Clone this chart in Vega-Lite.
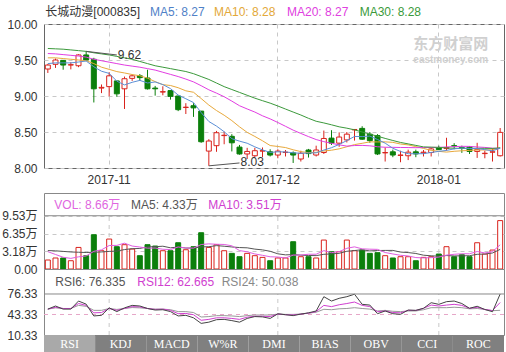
{
"$schema": "https://vega.github.io/schema/vega-lite/v6.json",
"background": "white",
"padding": {"left": 1, "top": 5, "right": 3, "bottom": 0},
"bounds": "flush",
"spacing": 0,
"config": {
 "font": "Liberation Sans, Noto Sans CJK SC",
 "axis": {"labelFontSize": 12, "labelColor": "#333333", "domain": false, "ticks": false, "labelOverlap": false, "labelFlush": false, "labelBound": false},
 "text": {"fontSize": 12},
 "line": {"strokeWidth": 1}
},
"datasets": {
"months": [{"d":"2017-11-01"},{"d":"2017-12-01"},{"d":"2018-01-02"}],
"tabs": [{"t":"RSI"},{"t":"KDJ"},{"t":"MACD"},{"t":"W%R"},{"t":"DMI"},{"t":"BIAS"},{"t":"OBV"},{"t":"CCI"},{"t":"ROC"}],
"k": [
{"d":"2017-10-20","o":9.375,"h":9.445,"l":9.32,"c":9.43,"v":1.61,"m5":9.45,"m10":9.53,"m20":9.59,"m30":9.66,"vm5":3.1,"vm10":3.3,"r6":52,"r12":52,"r24":52},
{"d":"2017-10-23","o":9.44,"h":9.52,"l":9.39,"c":9.5,"v":1.97,"m5":9.46,"m10":9.53,"m20":9.585,"m30":9.655,"vm5":2.6,"vm10":3.25,"r6":57,"r12":55,"r24":54},
{"d":"2017-10-24","o":9.495,"h":9.5,"l":9.365,"c":9.43,"v":1.97,"m5":9.46,"m10":9.52,"m20":9.575,"m30":9.65,"vm5":2.1,"vm10":3.15,"r6":52,"r12":53,"r24":53},
{"d":"2017-10-25","o":9.43,"h":9.47,"l":9.37,"c":9.435,"v":1.48,"m5":9.46,"m10":9.51,"m20":9.565,"m30":9.64,"vm5":1.9,"vm10":3.05,"r6":52,"r12":53,"r24":53},
{"d":"2017-10-26","o":9.42,"h":9.58,"l":9.4,"c":9.57,"v":3.86,"m5":9.472,"m10":9.5,"m20":9.555,"m30":9.63,"vm5":2.178,"vm10":3.0,"r6":65,"r12":61,"r24":58},
{"d":"2017-10-27","o":9.57,"h":9.62,"l":9.49,"c":9.5,"v":2.38,"m5":9.486,"m10":9.49,"m20":9.54,"m30":9.62,"vm5":2.332,"vm10":2.95,"r6":60,"r12":58,"r24":56.5},
{"d":"2017-10-30","o":9.51,"h":9.53,"l":8.91,"c":9.1,"v":6.13,"m5":9.406,"m10":9.45,"m20":9.51,"m30":9.6,"vm5":3.164,"vm10":3.0,"r6":41,"r12":46,"r24":50},
{"d":"2017-10-31","o":9.11,"h":9.16,"l":9.04,"c":9.12,"v":3.27,"m5":9.344,"m10":9.4,"m20":9.49,"m30":9.585,"vm5":3.424,"vm10":3.05,"r6":42,"r12":46.5,"r24":50},
{"d":"2017-11-01","o":9.13,"h":9.33,"l":8.995,"c":9.28,"v":5.36,"m5":9.314,"m10":9.37,"m20":9.47,"m30":9.57,"vm5":4.2,"vm10":3.15,"r6":54,"r12":53,"r24":53},
{"d":"2017-11-02","o":9.21,"h":9.21,"l":8.99,"c":9.03,"v":3.99,"m5":9.206,"m10":9.339,"m20":9.45,"m30":9.55,"vm5":4.226,"vm10":3.202,"r6":48,"r12":50,"r24":51.5},
{"d":"2017-11-03","o":9.1,"h":9.27,"l":8.82,"c":9.24,"v":4.35,"m5":9.154,"m10":9.32,"m20":9.43,"m30":9.53,"vm5":4.62,"vm10":3.476,"r6":54,"r12":53,"r24":53},
{"d":"2017-11-06","o":9.245,"h":9.3,"l":9.21,"c":9.28,"v":3.57,"m5":9.19,"m10":9.298,"m20":9.415,"m30":9.51,"vm5":4.108,"vm10":3.636,"r6":58,"r12":56,"r24":54.5},
{"d":"2017-11-07","o":9.28,"h":9.305,"l":9.21,"c":9.255,"v":2.38,"m5":9.217,"m10":9.281,"m20":9.4,"m30":9.48,"vm5":3.93,"vm10":3.677,"r6":57,"r12":55.5,"r24":54},
{"d":"2017-11-08","o":9.25,"h":9.365,"l":9.09,"c":9.1,"v":4.35,"m5":9.181,"m10":9.248,"m20":9.38,"m30":9.45,"vm5":3.728,"vm10":3.964,"r6":53,"r12":53,"r24":53},
{"d":"2017-11-09","o":9.11,"h":9.14,"l":9.005,"c":9.1,"v":4.11,"m5":9.195,"m10":9.2,"m20":9.36,"m30":9.42,"vm5":3.752,"vm10":3.989,"r6":50.5,"r12":51.5,"r24":52},
{"d":"2017-11-10","o":9.055,"h":9.135,"l":9.01,"c":9.06,"v":3.27,"m5":9.159,"m10":9.157,"m20":9.33,"m30":9.4,"vm5":3.536,"vm10":4.078,"r6":51,"r12":52,"r24":52},
{"d":"2017-11-13","o":9.075,"h":9.075,"l":8.95,"c":8.995,"v":3.27,"m5":9.102,"m10":9.146,"m20":9.3,"m30":9.38,"vm5":3.476,"vm10":3.792,"r6":48,"r12":50,"r24":51},
{"d":"2017-11-14","o":9.0,"h":9.005,"l":8.79,"c":8.81,"v":4.7,"m5":9.013,"m10":9.115,"m20":9.27,"m30":9.36,"vm5":3.94,"vm10":3.935,"r6":41,"r12":44.7,"r24":48},
{"d":"2017-11-15","o":8.84,"h":8.9,"l":8.75,"c":8.845,"v":3.45,"m5":8.962,"m10":9.072,"m20":9.235,"m30":9.34,"vm5":3.76,"vm10":3.744,"r6":42,"r12":45,"r24":48},
{"d":"2017-11-16","o":8.865,"h":8.9,"l":8.71,"c":8.835,"v":3.99,"m5":8.909,"m10":9.052,"m20":9.196,"m30":9.31,"vm5":3.736,"vm10":3.744,"r6":38,"r12":43,"r24":46.5},
{"d":"2017-11-17","o":8.79,"h":8.79,"l":8.35,"c":8.365,"v":6.49,"m5":8.77,"m10":8.965,"m20":9.143,"m30":9.27,"vm5":4.38,"vm10":3.958,"r6":29,"r12":34,"r24":39.3},
{"d":"2017-11-20","o":8.235,"h":8.4,"l":8.03,"c":8.375,"v":3.86,"m5":8.646,"m10":8.874,"m20":9.086,"m30":9.23,"vm5":4.498,"vm10":3.987,"r6":31,"r12":35.5,"r24":40},
{"d":"2017-11-21","o":8.31,"h":8.515,"l":8.225,"c":8.49,"v":4.35,"m5":8.582,"m10":8.798,"m20":9.04,"m30":9.18,"vm5":4.428,"vm10":4.184,"r6":35,"r12":38,"r24":41.5},
{"d":"2017-11-22","o":8.45,"h":8.505,"l":8.33,"c":8.455,"v":3.27,"m5":8.504,"m10":8.733,"m20":8.99,"m30":9.13,"vm5":4.392,"vm10":4.076,"r6":35.5,"r12":38,"r24":41.5},
{"d":"2017-11-23","o":8.44,"h":8.47,"l":8.23,"c":8.35,"v":2.8,"m5":8.407,"m10":8.658,"m20":8.929,"m30":9.09,"vm5":4.154,"vm10":3.945,"r6":33.5,"r12":37,"r24":41},
{"d":"2017-11-24","o":8.29,"h":8.32,"l":8.185,"c":8.195,"v":2.2,"m5":8.373,"m10":8.572,"m20":8.865,"m30":9.05,"vm5":3.296,"vm10":3.838,"r6":31,"r12":35.5,"r24":40},
{"d":"2017-11-27","o":8.195,"h":8.28,"l":8.125,"c":8.23,"v":2.8,"m5":8.344,"m10":8.495,"m20":8.82,"m30":9.01,"vm5":3.084,"vm10":3.791,"r6":37,"r12":39,"r24":41.5},
{"d":"2017-11-28","o":8.17,"h":8.28,"l":8.15,"c":8.24,"v":2.38,"m5":8.294,"m10":8.438,"m20":8.777,"m30":8.97,"vm5":2.69,"vm10":3.559,"r6":40,"r12":40.5,"r24":42.5},
{"d":"2017-11-29","o":8.235,"h":8.285,"l":8.15,"c":8.24,"v":2.08,"m5":8.251,"m10":8.378,"m20":8.725,"m30":8.935,"vm5":2.452,"vm10":3.422,"r6":39.5,"r12":40.5,"r24":42.5},
{"d":"2017-11-30","o":8.225,"h":8.26,"l":8.16,"c":8.18,"v":1.48,"m5":8.217,"m10":8.312,"m20":8.682,"m30":8.901,"vm5":2.188,"vm10":3.171,"r6":37,"r12":40,"r24":42.5},
{"d":"2017-12-01","o":8.18,"h":8.26,"l":8.135,"c":8.235,"v":1.97,"m5":8.225,"m10":8.299,"m20":8.632,"m30":8.861,"vm5":2.142,"vm10":2.719,"r6":44.5,"r12":44,"r24":44},
{"d":"2017-12-04","o":8.215,"h":8.25,"l":8.16,"c":8.22,"v":1.97,"m5":8.223,"m10":8.284,"m20":8.579,"m30":8.819,"vm5":1.976,"vm10":2.53,"r6":43,"r12":43,"r24":43.5},
{"d":"2017-12-05","o":8.21,"h":8.23,"l":8.07,"c":8.18,"v":4.88,"m5":8.211,"m10":8.253,"m20":8.526,"m30":8.777,"vm5":2.476,"vm10":2.583,"r6":41.5,"r12":42.5,"r24":43.5},
{"d":"2017-12-06","o":8.125,"h":8.24,"l":8.09,"c":8.205,"v":2.2,"m5":8.204,"m10":8.228,"m20":8.48,"m30":8.736,"vm5":2.5,"vm10":2.476,"r6":44,"r12":44,"r24":44},
{"d":"2017-12-07","o":8.25,"h":8.265,"l":8.145,"c":8.2,"v":2.2,"m5":8.208,"m10":8.213,"m20":8.436,"m30":8.69,"vm5":2.644,"vm10":2.416,"r6":46,"r12":45.5,"r24":45.5},
{"d":"2017-12-08","o":8.18,"h":8.31,"l":8.16,"c":8.25,"v":1.97,"m5":8.211,"m10":8.218,"m20":8.395,"m30":8.649,"vm5":2.644,"vm10":2.393,"r6":49,"r12":48,"r24":47},
{"d":"2017-12-11","o":8.215,"h":8.52,"l":8.195,"c":8.41,"v":5.18,"m5":8.249,"m10":8.236,"m20":8.366,"m30":8.626,"vm5":3.286,"vm10":2.631,"r6":72,"r12":58,"r24":51.7},
{"d":"2017-12-12","o":8.415,"h":8.525,"l":8.32,"c":8.345,"v":3.09,"m5":8.282,"m10":8.247,"m20":8.343,"m30":8.6,"vm5":2.928,"vm10":2.702,"r6":65,"r12":56,"r24":51},
{"d":"2017-12-13","o":8.345,"h":8.495,"l":8.295,"c":8.43,"v":3.09,"m5":8.327,"m10":8.266,"m20":8.322,"m30":8.572,"vm5":3.106,"vm10":2.803,"r6":69.4,"r12":59,"r24":52.5},
{"d":"2017-12-14","o":8.39,"h":8.5,"l":8.355,"c":8.47,"v":5.18,"m5":8.381,"m10":8.295,"m20":8.304,"m30":8.553,"vm5":3.702,"vm10":3.173,"r6":72,"r12":61,"r24":53},
{"d":"2017-12-15","o":8.53,"h":8.535,"l":8.38,"c":8.535,"v":3.27,"m5":8.438,"m10":8.325,"m20":8.312,"m30":8.53,"vm5":3.962,"vm10":3.303,"r6":76,"r12":63.4,"r24":54.3},
{"d":"2017-12-18","o":8.55,"h":8.58,"l":8.39,"c":8.4,"v":3.39,"m5":8.436,"m10":8.343,"m20":8.314,"m30":8.5,"vm5":3.604,"vm10":3.445,"r6":59.7,"r12":58,"r24":53},
{"d":"2017-12-19","o":8.47,"h":8.5,"l":8.35,"c":8.38,"v":2.8,"m5":8.443,"m10":8.363,"m20":8.308,"m30":8.471,"vm5":3.546,"vm10":3.237,"r6":58.5,"r12":56,"r24":52},
{"d":"2017-12-20","o":8.45,"h":8.47,"l":8.18,"c":8.195,"v":2.92,"m5":8.396,"m10":8.362,"m20":8.295,"m30":8.441,"vm5":3.512,"vm10":3.309,"r6":44.6,"r12":47.8,"r24":49},
{"d":"2017-12-21","o":8.21,"h":8.285,"l":8.09,"c":8.215,"v":2.38,"m5":8.345,"m10":8.363,"m20":8.288,"m30":8.411,"vm5":2.952,"vm10":3.327,"r6":49,"r12":49,"r24":50},
{"d":"2017-12-22","o":8.225,"h":8.255,"l":8.15,"c":8.18,"v":1.97,"m5":8.274,"m10":8.356,"m20":8.287,"m30":8.382,"vm5":2.692,"vm10":3.327,"r6":44.6,"r12":46.5,"r24":48.5},
{"d":"2017-12-25","o":8.175,"h":8.24,"l":8.08,"c":8.18,"v":2.2,"m5":8.23,"m10":8.333,"m20":8.285,"m30":8.355,"vm5":2.454,"vm10":3.029,"r6":43.6,"r12":46,"r24":48},
{"d":"2017-12-26","o":8.17,"h":8.255,"l":8.11,"c":8.22,"v":2.2,"m5":8.198,"m10":8.321,"m20":8.284,"m30":8.335,"vm5":2.334,"vm10":2.94,"r6":50.5,"r12":50,"r24":49},
{"d":"2017-12-27","o":8.225,"h":8.255,"l":8.15,"c":8.195,"v":1.48,"m5":8.198,"m10":8.297,"m20":8.282,"m30":8.314,"vm5":2.046,"vm10":2.779,"r6":50,"r12":49.8,"r24":49},
{"d":"2017-12-28","o":8.21,"h":8.25,"l":8.16,"c":8.22,"v":2.08,"m5":8.199,"m10":8.272,"m20":8.284,"m30":8.293,"vm5":1.986,"vm10":2.469,"r6":53.3,"r12":53.3,"r24":51},
{"d":"2017-12-29","o":8.215,"h":8.29,"l":8.16,"c":8.265,"v":2.2,"m5":8.216,"m10":8.245,"m20":8.285,"m30":8.29,"vm5":2.032,"vm10":2.362,"r6":62.3,"r12":58.5,"r24":54.3},
{"d":"2018-01-02","o":8.285,"h":8.31,"l":8.25,"c":8.255,"v":2.68,"m5":8.231,"m10":8.231,"m20":8.287,"m30":8.286,"vm5":2.128,"vm10":2.291,"r6":59.7,"r12":57,"r24":54.3},
{"d":"2018-01-03","o":8.27,"h":8.42,"l":8.24,"c":8.285,"v":3.99,"m5":8.244,"m10":8.221,"m20":8.292,"m30":8.279,"vm5":2.486,"vm10":2.41,"r6":64,"r12":58.5,"r24":54.3},
{"d":"2018-01-04","o":8.31,"h":8.345,"l":8.26,"c":8.305,"v":2.2,"m5":8.266,"m10":8.232,"m20":8.297,"m30":8.274,"vm5":2.63,"vm10":2.338,"r6":65,"r12":59.7,"r24":55},
{"d":"2018-01-05","o":8.285,"h":8.31,"l":8.21,"c":8.28,"v":2.56,"m5":8.278,"m10":8.239,"m20":8.301,"m30":8.272,"vm5":2.726,"vm10":2.356,"r6":61,"r12":58,"r24":54.3},
{"d":"2018-01-08","o":8.29,"h":8.3,"l":8.195,"c":8.23,"v":2.2,"m5":8.271,"m10":8.244,"m20":8.3,"m30":8.273,"vm5":2.726,"vm10":2.379,"r6":53.3,"r12":53.3,"r24":52.5},
{"d":"2018-01-09","o":8.23,"h":8.35,"l":8.14,"c":8.255,"v":4.7,"m5":8.271,"m10":8.251,"m20":8.292,"m30":8.273,"vm5":3.13,"vm10":2.629,"r6":56.6,"r12":55,"r24":53},
{"d":"2018-01-10","o":8.2,"h":8.24,"l":8.135,"c":8.205,"v":2.68,"m5":8.255,"m10":8.25,"m20":8.286,"m30":8.273,"vm5":2.868,"vm10":2.677,"r6":51.4,"r12":51.4,"r24":51.4},
{"d":"2018-01-11","o":8.22,"h":8.275,"l":8.09,"c":8.225,"v":3.39,"m5":8.239,"m10":8.253,"m20":8.275,"m30":8.272,"vm5":3.106,"vm10":2.868,"r6":47.8,"r12":49.7,"r24":49.5},
{"d":"2018-01-12","o":8.17,"h":8.555,"l":8.16,"c":8.495,"v":8.66,"m5":8.275,"m10":8.28,"m20":8.27,"m30":8.28,"vm5":4.33,"vm10":3.51,"r6":76.335,"r12":62.665,"r24":50.038}
]
},
"vconcat": [
{
 "width": 460, "height": 144,
 "view": {"stroke": "#666666"},
 "data": {"name": "k"},
 "layer": [
  {"mark": {"type": "rule", "strokeWidth": 1},
   "encoding": {
    "x": {"field": "d", "type": "ordinal", "scale": {"paddingInner": 0.35, "paddingOuter": 0.175},
          "axis": {"values": ["2017-11-01","2017-12-01","2018-01-02"], "labelExpr": "slice(datum.value, 0, 7)", "grid": true, "gridDash": [4,4], "gridColor": "#c8c8c8", "bandPosition": 0.5, "labelAngle": 0, "labelPadding": 6, "title": null}},
    "y": {"field": "l", "type": "quantitative", "scale": {"domain": [8, 10], "zero": false, "nice": false},
          "axis": {"values": [8, 8.5, 9, 9.5, 10], "tickCount": 20, "format": ".2f", "grid": true, "gridDash": [4,4], "gridColor": "#c8c8c8", "labelPadding": 7, "title": null, "labelFlush": false, "labelOverlap": false}},
    "y2": {"field": "h"},
    "color": {"condition": {"test": "datum.c >= datum.o", "value": "#d9221c"}, "value": "#0b7f0b"}
   }},
  {"mark": {"type": "bar", "strokeWidth": 1},
   "encoding": {
    "x": {"field": "d", "type": "ordinal"},
    "y": {"field": "o", "type": "quantitative"},
    "y2": {"field": "c"},
    "fill": {"condition": {"test": "datum.c >= datum.o", "value": "#ffffff"}, "value": "#0b7f0b"},
    "stroke": {"condition": {"test": "datum.c >= datum.o", "value": "#d9221c"}, "value": "#0b7f0b"}
   }},
  {"mark": {"type": "line", "color": "#e8a93c"}, "encoding": {"x": {"field": "d", "type": "ordinal"}, "y": {"field": "m10", "type": "quantitative"}}},
  {"mark": {"type": "line", "color": "#e23de2"}, "encoding": {"x": {"field": "d", "type": "ordinal"}, "y": {"field": "m20", "type": "quantitative"}}},
  {"mark": {"type": "line", "color": "#3b993b"}, "encoding": {"x": {"field": "d", "type": "ordinal"}, "y": {"field": "m30", "type": "quantitative"}}},
  {"mark": {"type": "line", "color": "#5b8fd6"}, "encoding": {"x": {"field": "d", "type": "ordinal"}, "y": {"field": "m5", "type": "quantitative"}}},
  {"data": {"values": [{}]}, "mark": {"type": "rule", "color": "#555555"},
   "encoding": {"x": {"datum": "2017-10-27", "type": "ordinal"}, "x2": {"datum": "2017-11-02"}, "y": {"datum": 9.62, "type": "quantitative"}, "y2": {"datum": 9.57}}},
  {"data": {"values": [{}]}, "mark": {"type": "text", "align": "left", "baseline": "middle", "text": "9.62", "color": "#333333", "dx": 1},
   "encoding": {"x": {"datum": "2017-11-02", "type": "ordinal"}, "y": {"datum": 9.566, "type": "quantitative"}}},
  {"data": {"values": [{}]}, "mark": {"type": "rule", "color": "#555555"},
   "encoding": {"x": {"datum": "2017-11-20", "type": "ordinal"}, "x2": {"datum": "2017-11-24"}, "y": {"datum": 8.03, "type": "quantitative"}, "y2": {"datum": 8.07}}},
  {"data": {"values": [{}]}, "mark": {"type": "text", "align": "left", "baseline": "middle", "text": "8.03", "color": "#333333", "dx": 1},
   "encoding": {"x": {"datum": "2017-11-24", "type": "ordinal"}, "y": {"datum": 8.085, "type": "quantitative"}}},
  {"data": {"values": [{}]}, "mark": {"type": "text", "align": "left", "baseline": "middle", "text": "长城动漫[000835]", "color": "#333333"},
   "encoding": {"x": {"datum": "2017-10-20", "type": "ordinal", "bandPosition": 0}, "y": {"datum": 10.165, "type": "quantitative"}}},
  {"data": {"values": [{}]}, "mark": {"type": "text", "align": "left", "baseline": "middle", "text": "MA5: 8.27", "color": "#4f81c7"},
   "encoding": {"x": {"datum": "2017-11-08", "type": "ordinal", "bandPosition": 1}, "y": {"datum": 10.165, "type": "quantitative"}}},
  {"data": {"values": [{}]}, "mark": {"type": "text", "align": "left", "baseline": "middle", "text": "MA10: 8.28", "color": "#e3a839"},
   "encoding": {"x": {"datum": "2017-11-21", "type": "ordinal", "bandPosition": 0}, "y": {"datum": 10.165, "type": "quantitative"}}},
  {"data": {"values": [{}]}, "mark": {"type": "text", "align": "left", "baseline": "middle", "text": "MA20: 8.27", "color": "#e040e0"},
   "encoding": {"x": {"datum": "2017-12-04", "type": "ordinal", "bandPosition": 0.8}, "y": {"datum": 10.165, "type": "quantitative"}}},
  {"data": {"values": [{}]}, "mark": {"type": "text", "align": "left", "baseline": "middle", "text": "MA30: 8.28", "color": "#3a9a3a"},
   "encoding": {"x": {"datum": "2017-12-18", "type": "ordinal", "bandPosition": 0}, "y": {"datum": 10.165, "type": "quantitative"}}},
  {"data": {"values": [{}]}, "mark": {"type": "text", "align": "left", "baseline": "middle", "text": "东方财富网", "color": "#d0d0d0", "fontSize": 15, "fontWeight": "bold", "font": "Noto Sans CJK SC"},
   "encoding": {"x": {"datum": "2017-12-27", "type": "ordinal", "bandPosition": 0}, "y": {"datum": 9.72, "type": "quantitative"}}},
  {"data": {"values": [{}]}, "mark": {"type": "text", "align": "left", "baseline": "middle", "text": "eastmoney.com", "color": "#d0d0d0", "fontSize": 10, "fontWeight": "bold"},
   "encoding": {"x": {"datum": "2017-12-27", "type": "ordinal", "bandPosition": 0}, "y": {"datum": 9.495, "type": "quantitative"}}}
 ]
},
{
 "width": 460, "height": 25,
 "view": {"stroke": null},
 "data": {"values": []},
 "mark": "rule",
 "encoding": {}
},
{
 "width": 460, "height": 76,
 "view": {"stroke": "#888888"},
 "data": {"name": "k"},
 "layer": [
  {"data": {"name": "months"}, "mark": {"type": "rule", "strokeDash": [4,4], "color": "#c8c8c8"},
   "encoding": {"x": {"field": "d", "type": "ordinal", "axis": null}, "y": {"datum": 0, "type": "quantitative"}, "y2": {"datum": 9.53}}},
  {"mark": {"type": "bar", "strokeWidth": 1},
   "encoding": {
    "x": {"field": "d", "type": "ordinal", "axis": null, "scale": {"paddingInner": 0.35, "paddingOuter": 0.175}},
    "y": {"field": "v", "type": "quantitative", "scale": {"domain": [0, 13.6], "nice": false},
          "axis": {"values": [0, 3.18, 6.35, 9.53], "tickCount": 20, "labelExpr": "datum.value == 0 ? '0.00' : format(datum.value, '.2f') + '万'", "grid": true, "gridDash": [4,4], "gridColor": "#c8c8c8", "labelPadding": 7, "title": null, "labelFlush": false, "labelOverlap": false}},
    "fill": {"condition": {"test": "datum.c >= datum.o", "value": "#ffffff"}, "value": "#0b7f0b"},
    "stroke": {"condition": {"test": "datum.c >= datum.o", "value": "#d9221c"}, "value": "#0b7f0b"}
   }},
  {"mark": {"type": "line", "color": "#555555"}, "encoding": {"x": {"field": "d", "type": "ordinal", "axis": null}, "y": {"field": "vm10", "type": "quantitative"}}},
  {"mark": {"type": "line", "color": "#e05ce0"}, "encoding": {"x": {"field": "d", "type": "ordinal", "axis": null}, "y": {"field": "vm5", "type": "quantitative"}}},
  {"data": {"values": [{}]}, "mark": {"type": "rule", "color": "#888888"}, "encoding": {"y": {"datum": 9.53, "type": "quantitative"}}},
  {"data": {"values": [{}]}, "mark": {"type": "text", "align": "left", "baseline": "middle", "text": "VOL: 8.66万", "color": "#e066e0"},
   "encoding": {"x": {"datum": "2017-10-23", "type": "ordinal", "bandPosition": 0.26, "axis": null}, "y": {"datum": 11.4, "type": "quantitative"}}},
  {"data": {"values": [{}]}, "mark": {"type": "text", "align": "left", "baseline": "middle", "text": "MA5: 4.33万", "color": "#555555"},
   "encoding": {"x": {"datum": "2017-11-06", "type": "ordinal", "bandPosition": 0.27, "axis": null}, "y": {"datum": 11.4, "type": "quantitative"}}},
  {"data": {"values": [{}]}, "mark": {"type": "text", "align": "left", "baseline": "middle", "text": "MA10: 3.51万", "color": "#d040d0"},
   "encoding": {"x": {"datum": "2017-11-20", "type": "ordinal", "bandPosition": 0.4, "axis": null}, "y": {"datum": 11.4, "type": "quantitative"}}}
 ]
},
{
 "width": 460, "height": 66,
 "view": {"stroke": "#888888"},
 "data": {"name": "k"},
 "layer": [
  {"data": {"name": "months"}, "mark": {"type": "rule", "strokeDash": [4,4], "color": "#c8c8c8"},
   "encoding": {"x": {"field": "d", "type": "ordinal", "axis": null}, "y": {"datum": 10.33, "type": "quantitative"}, "y2": {"datum": 76.33}}},
  {"data": {"values": [{}]}, "mark": {"type": "rule", "color": "#e6a6c8", "strokeDash": [4,4]}, "encoding": {"y": {"datum": 43.33, "type": "quantitative"}}},
  {"mark": {"type": "line", "color": "#999999"},
   "encoding": {"x": {"field": "d", "type": "ordinal", "axis": null, "scale": {"paddingInner": 0.35, "paddingOuter": 0.175}},
    "y": {"field": "r24", "type": "quantitative", "scale": {"domain": [10.33, 116.57], "zero": false, "nice": false},
          "axis": {"values": [10.33, 43.33, 76.33], "tickCount": 20, "format": ".2f", "grid": false, "labelPadding": 7, "title": null, "labelFlush": false, "labelOverlap": false}}}},
  {"mark": {"type": "line", "color": "#d040d0"}, "encoding": {"x": {"field": "d", "type": "ordinal", "axis": null}, "y": {"field": "r12", "type": "quantitative"}}},
  {"mark": {"type": "line", "color": "#444444"}, "encoding": {"x": {"field": "d", "type": "ordinal", "axis": null}, "y": {"field": "r6", "type": "quantitative"}}},
  {"data": {"values": [{}]}, "mark": {"type": "rule", "color": "#888888"}, "encoding": {"y": {"datum": 76.33, "type": "quantitative"}}},
  {"data": {"values": [{}]}, "mark": {"type": "text", "align": "left", "baseline": "middle", "text": "RSI6: 76.335", "color": "#555555"},
   "encoding": {"x": {"datum": "2017-10-23", "type": "ordinal", "bandPosition": 0.46, "axis": null}, "y": {"datum": 95.6, "type": "quantitative"}}},
  {"data": {"values": [{}]}, "mark": {"type": "text", "align": "left", "baseline": "middle", "text": "RSI12: 62.665", "color": "#d040d0"},
   "encoding": {"x": {"datum": "2017-11-07", "type": "ordinal", "bandPosition": 0, "axis": null}, "y": {"datum": 95.6, "type": "quantitative"}}},
  {"data": {"values": [{}]}, "mark": {"type": "text", "align": "left", "baseline": "middle", "text": "RSI24: 50.038", "color": "#888888"},
   "encoding": {"x": {"datum": "2017-11-22", "type": "ordinal", "bandPosition": 0, "axis": null}, "y": {"datum": 95.6, "type": "quantitative"}}}
 ]
},
{
 "width": 460, "height": 18,
 "view": {"stroke": null},
 "data": {"name": "tabs"},
 "layer": [
  {"mark": {"type": "bar"},
   "encoding": {"x": {"field": "t", "type": "ordinal", "sort": null, "axis": null, "scale": {"paddingInner": 0, "paddingOuter": 0}},
    "color": {"condition": {"test": "datum.t == 'RSI'", "value": "#a9a9a9"}, "value": "#808080"}}},
  {"mark": {"type": "text", "color": "#ffffff", "font": "Liberation Serif", "fontSize": 12},
   "encoding": {"x": {"field": "t", "type": "ordinal", "sort": null, "axis": null}, "text": {"field": "t"}}}
 ]
}
]
}
